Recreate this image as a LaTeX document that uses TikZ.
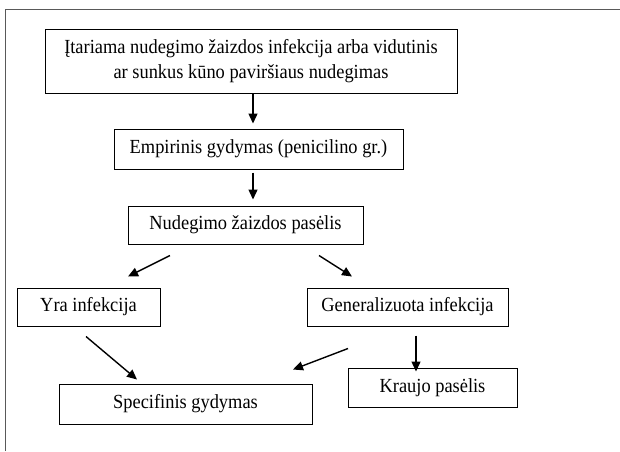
\documentclass[tikz,border=0pt]{standalone}
\usepackage{fontspec}
\setmainfont{Liberation Serif}[FakeStretch=0.92]
\usetikzlibrary{arrows.meta}

\begin{document}
\begin{tikzpicture}[x=1pt, y=-1pt]

	\useasboundingbox (0,0) rectangle (620,451);

	% Styles
	\tikzstyle{box}=[draw, line width=1pt, inner sep=0pt, align=center, font=\fontsize{20}{25}\selectfont]
	\tikzstyle{flow}=[-{Triangle[length=10pt, width=9pt]}, line width=1.4pt]

	% Frame
	\draw[black!65, line width=0.9pt] (5,451) -- (5,9) -- (620,9);

	%== Boxes ================================================================
	\node(start)[box, minimum width=412pt, minimum height=64pt] at (251,61)
		{Įtariama nudegimo žaizdos infekcija arba vidutinis\\ar sunkus kūno paviršiaus nudegimas};
	\node(empiric)[box, minimum width=289pt, minimum height=40pt] at (258.5,149)
		{Empirinis gydymas (penicilino gr.)};
	\node(culture)[box, minimum width=235pt, minimum height=38pt] at (245.5,225)
		{Nudegimo žaizdos pasėlis};
	\node(local)[box, minimum width=143pt, minimum height=38pt] at (88.5,307)
		{Yra infekcija};
	\node(general)[box, minimum width=201pt, minimum height=38pt] at (407.5,307)
		{Generalizuota infekcija};
	\node(blood)[box, minimum width=169pt, minimum height=39pt] at (432.5,387.5)
		{Kraujo pasėlis};
	\node(specific)[box, minimum width=253pt, minimum height=40pt] at (185.5,404)
		{Specifinis gydymas};

	%== Arrows ===============================================================
	\draw[flow, shorten >=5pt] ([xshift=2pt]start.south) -- ([xshift=2pt]start.south |- empiric.north);
	\draw[flow, shorten <=3pt, shorten >=6pt] ([xshift=-5.5pt]empiric.south) -- ([xshift=-5.5pt]empiric.south |- culture.north);

	\draw[flow] ([xshift=-75.5pt, yshift=-11pt]culture.south) -- ([xshift=39.5pt, yshift=11pt]local.north);
	\draw[flow] ([xshift=73.5pt, yshift=-11pt]culture.south) -- ([xshift=-55.5pt, yshift=11pt]general.north);

	\draw[flow] ([xshift=-2.5pt, yshift=-10pt]local.south) -- ([xshift=-48.5pt, yshift=4pt]specific.north);
	\draw[flow] ([xshift=-59.5pt, yshift=-22pt]general.south) -- ([xshift=107.5pt, yshift=14pt]specific.north);
	\draw[flow, shorten >=5pt] ([xshift=8.5pt, yshift=-9pt]general.south) -- ([xshift=8.5pt, yshift=-9pt]general.south |- blood.north);

\end{tikzpicture}
\end{document}
